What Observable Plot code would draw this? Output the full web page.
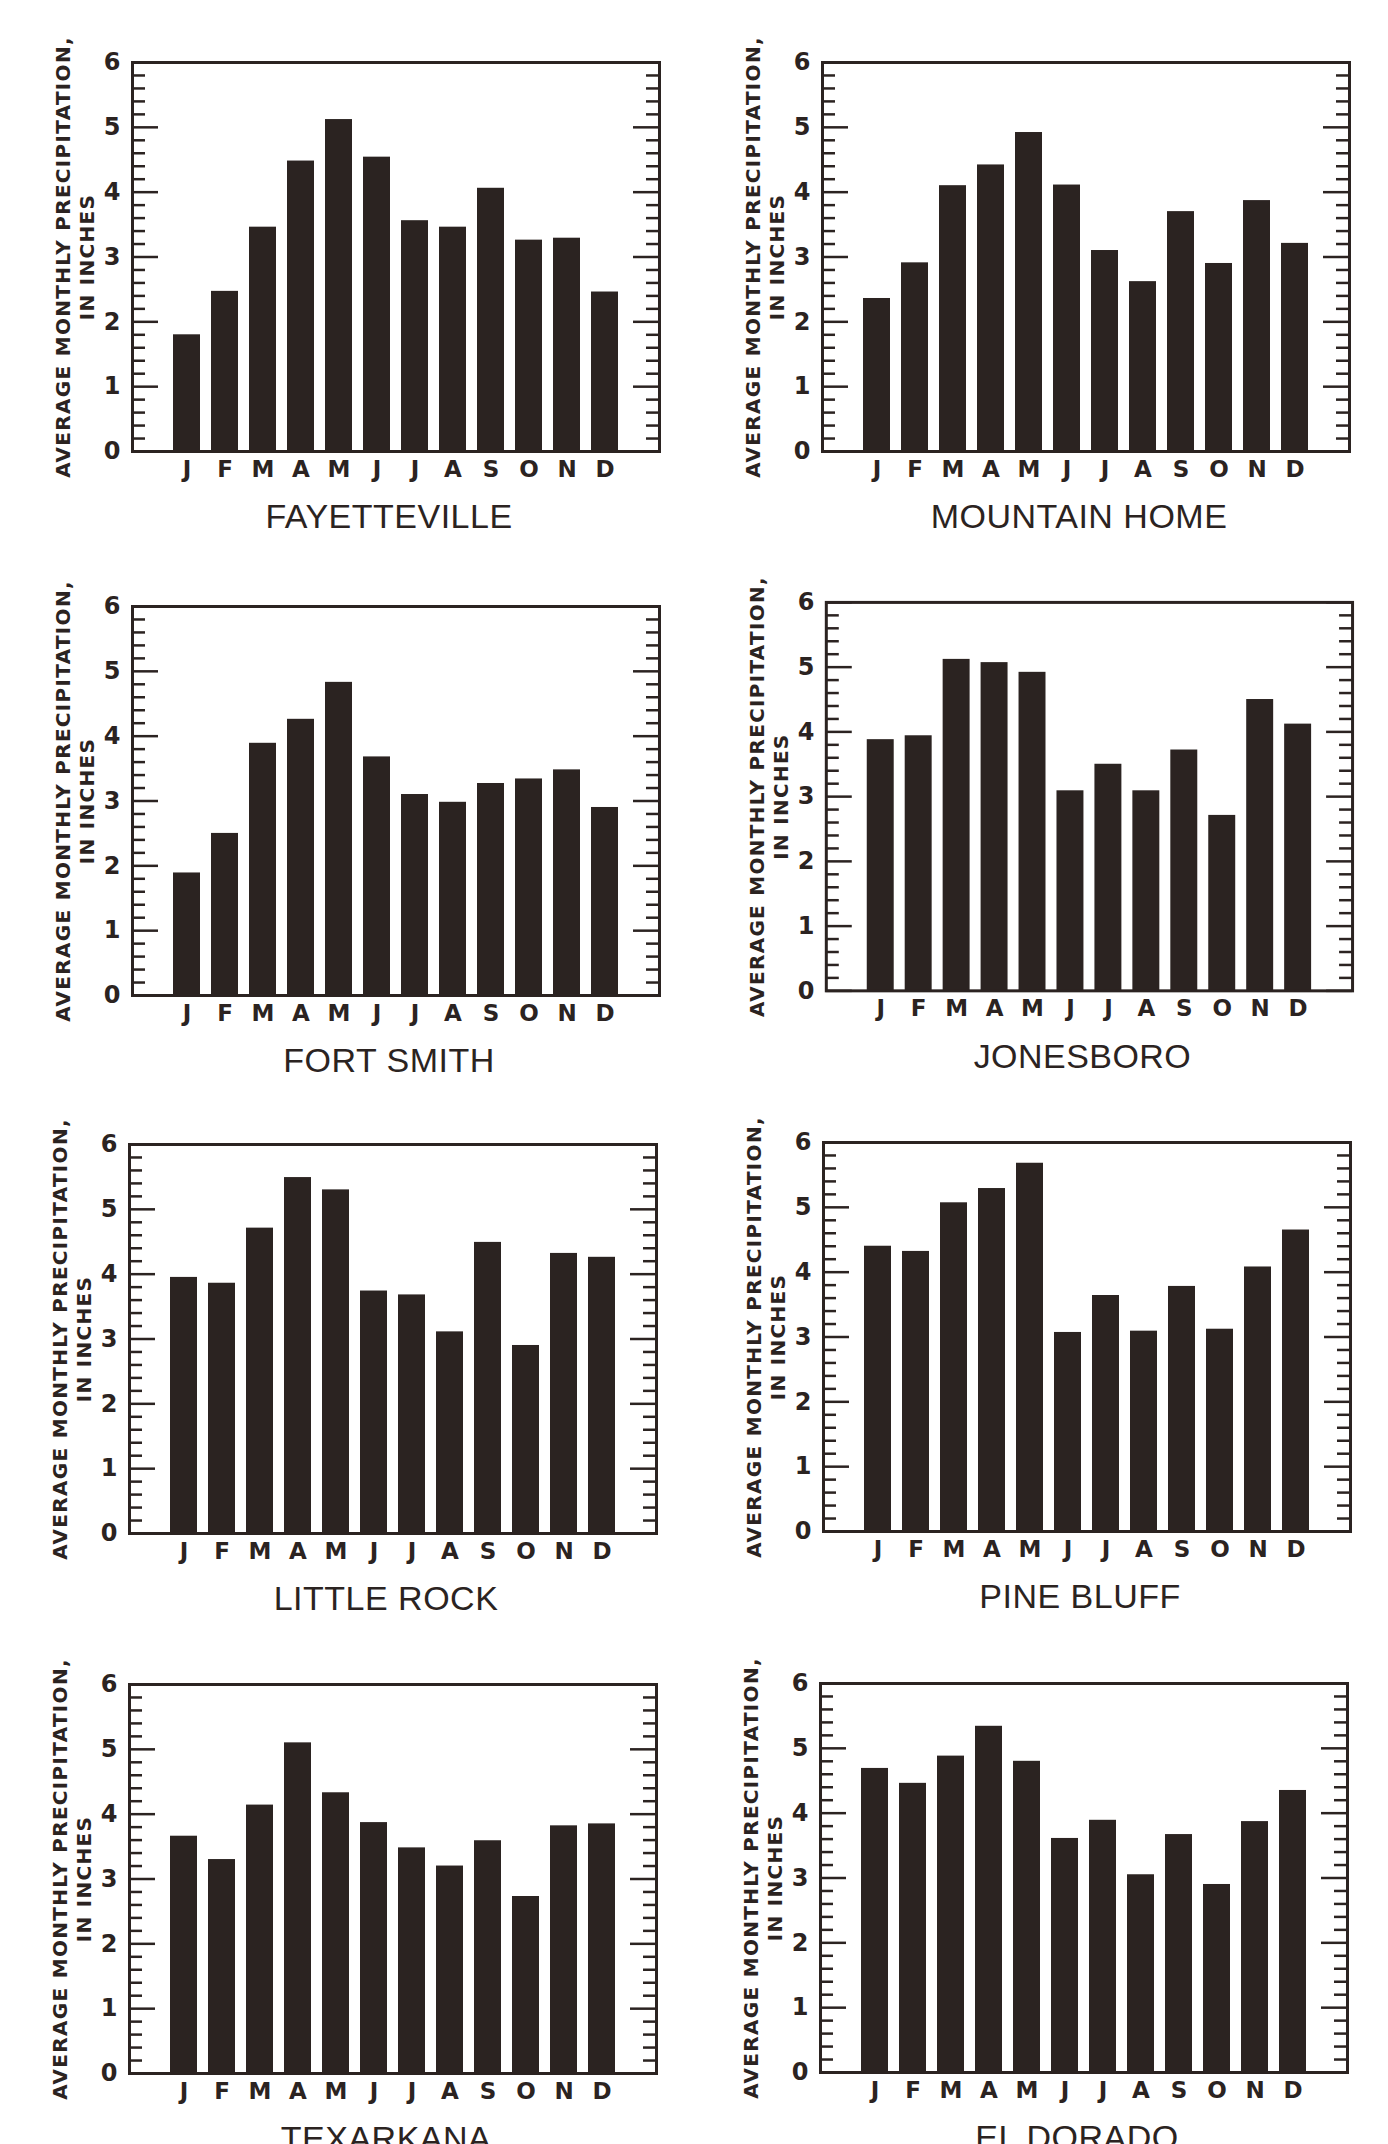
<!DOCTYPE html>
<html>
<head>
<meta charset="utf-8">
<script src="https://cdn.jsdelivr.net/npm/d3@7"></script>
<script src="https://cdn.jsdelivr.net/npm/@observablehq/plot@0.6"></script>
<style>
  html, body { margin: 0; padding: 0; background: #fff; width: 1388px; height: 2144px; overflow: hidden; }
  .panel { position: absolute; }
</style>
</head>
<body>
<div id="root"></div>
<script>
// ---------- data ----------
const monthLetters = ["J","F","M","A","M","J","J","A","S","O","N","D"];
const majorTicks = [0, 1, 2, 3, 4, 5, 6];
const yTitle = "AVERAGE MONTHLY PRECIPITATION,\nIN INCHES";
const cities = ["FAYETTEVILLE", "MOUNTAIN HOME", "FORT SMITH", "JONESBORO", "LITTLE ROCK", "PINE BLUFF", "TEXARKANA", "EL DORADO"];

const fayetteville = [1.80, 2.47, 3.46, 4.48, 5.12, 4.54, 3.56, 3.46, 4.06, 3.26, 3.29, 2.46];
const mountainHome = [2.36, 2.91, 4.10, 4.42, 4.92, 4.11, 3.10, 2.62, 3.70, 2.90, 3.87, 3.21];
const fortSmith    = [1.89, 2.50, 3.89, 4.26, 4.83, 3.68, 3.10, 2.98, 3.27, 3.34, 3.48, 2.90];
const jonesboro    = [3.88, 3.94, 5.12, 5.07, 4.92, 3.09, 3.50, 3.09, 3.72, 2.71, 4.50, 4.12];
const littleRock   = [3.95, 3.86, 4.71, 5.49, 5.30, 3.74, 3.68, 3.11, 4.49, 2.90, 4.32, 4.26];
const pineBluff    = [4.40, 4.32, 5.07, 5.29, 5.68, 3.07, 3.64, 3.09, 3.78, 3.12, 4.08, 4.65];
const texarkana    = [3.66, 3.30, 4.14, 5.10, 4.33, 3.87, 3.48, 3.20, 3.59, 2.73, 3.82, 3.85];
const elDorado     = [4.69, 4.46, 4.88, 5.34, 4.80, 3.61, 3.89, 3.05, 3.67, 2.90, 3.87, 4.35];

const series = [fayetteville, mountainHome, fortSmith, jonesboro, littleRock, pineBluff, texarkana, elDorado];

// ---------- layout (frame left / top of each panel, in page pixels) ----------
const frameOrigins = [
  [132, 62], [822, 62],
  [132, 606], [826, 602],
  [129, 1144], [823, 1142],
  [129, 1684], [820, 1683]
];

const INK = "#2b2321";
const BOLDFONT = "'DejaVu Sans', Verdana, sans-serif";
const TITLEFONT = "'Liberation Sans', Arial, Helvetica, sans-serif";
const minorTicks = d3.range(0, 6.001, 0.2).map(v => +v.toFixed(1)).filter(v => Math.abs(v - Math.round(v)) > 1e-6);

function panel(name, values, L, T) {
  const W = 527, H = 389, mL = 130, mT = 62, mR = 36, mB = 100;
  const data = values.map((v, i) => ({i, v}));
  const svg = Plot.plot({
    width: mL + W + mR,
    height: mT + H + mB,
    marginLeft: mL, marginTop: mT, marginRight: mR, marginBottom: mB,
    style: {fontFamily: BOLDFONT, fontSize: "23px", fontWeight: "bold", color: INK, background: "white", overflow: "visible"},
    x: {type: "band", domain: d3.range(12), paddingInner: 0.3, paddingOuter: 1.0, axis: null},
    y: {domain: [0, 6], axis: null},
    marks: [
      Plot.barY(data, {x: "i", y: "v", fill: INK}),
      Plot.tickY(minorTicks, {y: d => d, insetRight: W - 13, stroke: INK, strokeWidth: 2.5}),
      Plot.tickY(minorTicks, {y: d => d, insetLeft: W - 13, stroke: INK, strokeWidth: 2.5}),
      Plot.tickY(majorTicks, {y: d => d, insetRight: W - 26, stroke: INK, strokeWidth: 2.5}),
      Plot.tickY(majorTicks, {y: d => d, insetLeft: W - 26, stroke: INK, strokeWidth: 2.5}),
      Plot.frame({stroke: INK, strokeWidth: 3}),
      Plot.axisY({anchor: "left", ticks: majorTicks, tickSize: 0, tickPadding: 12, label: null, tickFormat: d => String(d), fontSize: 24, fontWeight: "bold", fontFamily: BOLDFONT, fill: INK}),
      Plot.axisX({anchor: "bottom", tickSize: 0, tickPadding: 9, label: null, tickFormat: i => monthLetters[i], fontSize: 23, fontWeight: "bold", fontFamily: BOLDFONT, fill: INK}),
      Plot.text([yTitle], {text: d => d, frameAnchor: "left", rotate: -90, dx: -58, textAnchor: "middle", lineAnchor: "middle", lineHeight: 1.2, fontSize: 20, fontWeight: "bold", fontFamily: BOLDFONT, fill: INK}),
      Plot.text([name], {text: d => d, frameAnchor: "bottom", dy: 66, dx: -7, textAnchor: "middle", lineAnchor: "middle", fontSize: 34, fontWeight: "normal", fontFamily: TITLEFONT, fill: INK})
    ]
  });
  d3.select(svg).selectAll("text")
    .filter(function() { return this.textContent.startsWith("AVERAGE"); })
    .style("letter-spacing", "1.3px");
  d3.select(svg).selectAll("text")
    .filter(function() { return this.textContent === name; })
    .style("letter-spacing", "0.5px");
  const div = document.createElement("div");
  div.className = "panel";
  div.style.left = (L - mL) + "px";
  div.style.top = (T - mT) + "px";
  div.appendChild(svg);
  document.getElementById("root").appendChild(div);
}

cities.forEach((c, k) => panel(c, series[k], frameOrigins[k][0], frameOrigins[k][1]));
</script>
</body>
</html>
